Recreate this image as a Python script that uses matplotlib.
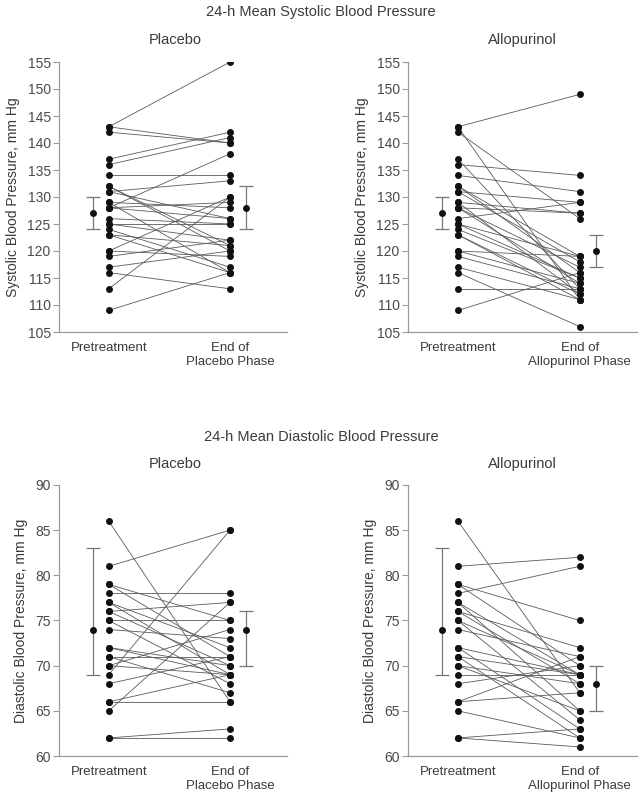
import matplotlib
matplotlib.use("Agg")
import matplotlib.pyplot as plt

plt.rcParams['font.family'] = ['Liberation Sans', 'DejaVu Sans']

# ---------------- data ----------------
sys_pre = [143, 143, 142, 137, 136, 134, 132, 132, 131, 131, 129, 129, 128, 128,
           128, 126, 125, 125, 124, 123, 123, 120, 120, 119, 117, 116, 113, 109]
sys_placebo_post = [155, 140, 140, 142, 141, 134, 121, 120, 133, 126, 116, 128, 138, 129,
                    126, 125, 125, 122, 117, 116, 121, 130, 119, 122, 120, 113, 130, 116]
sys_allo_post = [149, 111, 126, 113, 134, 131, 116, 119, 129, 118, 127, 112, 127, 114,
                 117, 129, 119, 115, 115, 111, 112, 119, 114, 113, 111, 106, 113, 116]

dia_pre = [86, 81, 79, 79, 78, 77, 77, 76, 76, 75, 75, 74, 72, 72, 71, 71, 70, 70,
           69, 68, 66, 66, 65, 62, 62]
dia_placebo_post = [66, 85, 75, 71, 78, 72, 69, 77, 70, 75, 68, 73, 70, 69, 71, 67, 74, 69,
                    85, 71, 69, 66, 77, 63, 62]
dia_allo_post = [67, 82, 75, 70, 81, 69, 65, 72, 68, 69, 64, 71, 69, 63, 69, 62, 68, 65,
                 69, 70, 71, 67, 62, 63, 61]

# summary (mean, lower, upper)
sys_placebo_summary = [(127, 124, 130), (128, 124, 132)]
sys_allo_summary = [(127, 124, 130), (120, 117, 123)]
dia_placebo_summary = [(74, 69, 83), (74, 70, 76)]
dia_allo_summary = [(74, 69, 83), (68, 65, 70)]

sys_ticks = [105, 110, 115, 120, 125, 130, 135, 140, 145, 150, 155]
dia_ticks = [60, 65, 70, 75, 80, 85, 90]

# ---------------- figure ----------------
W, H = 642, 797
fig = plt.figure(figsize=(W / 100, H / 100), dpi=100)

TXT = '#3a3a3a'
SPINE = '#9a9a9a'
LINE = '#5a5a5a'


def px_axes(x0, y_top, x1, y_bot):
    return fig.add_axes([x0 / W, 1 - y_bot / H, (x1 - x0) / W, (y_bot - y_top) / H])


def panel(ax, pre, post, summary, ticks, ylabel, end_label):
    for a, b in zip(pre, post):
        ax.plot([1, 2], [a, b], color=LINE, lw=0.6, zorder=2)
    ax.plot([1] * len(pre), pre, 'o', color='#111111', ms=5, zorder=3, mec='none')
    ax.plot([2] * len(post), post, 'o', color='#111111', ms=5, zorder=3, mec='none')
    for xpos, (m, lo, hi) in zip([0.87, 2.135], summary):
        ax.errorbar([xpos], [m], yerr=[[m - lo], [hi - m]], fmt='o', color='#111111',
                    ecolor='#777777', elinewidth=0.9, capsize=5, capthick=0.9,
                    ms=5, mec='none', zorder=3)
    ax.set_xlim(0.59, 2.47)
    ax.set_ylim(ticks[0], ticks[-1])
    ax.set_yticks(ticks)
    ax.set_xticks([1, 2])
    ax.set_xticklabels(['Pretreatment', end_label], fontsize=9.5, color=TXT)
    ax.tick_params(axis='x', length=0, pad=7)
    ax.tick_params(axis='y', length=4, width=0.8, color=SPINE, labelsize=10,
                   labelcolor='#4a4a4a', pad=2)
    for s in ['top', 'right']:
        ax.spines[s].set_visible(False)
    for s in ['left', 'bottom']:
        ax.spines[s].set_color(SPINE)
        ax.spines[s].set_linewidth(0.9)
    ax.set_ylabel(ylabel, fontsize=10, color=TXT, labelpad=5)
    ax.set_facecolor('none')


ax1 = px_axes(59, 62, 287, 332)
panel(ax1, sys_pre, sys_placebo_post, sys_placebo_summary, sys_ticks,
      'Systolic Blood Pressure, mm Hg', 'End of\nPlacebo Phase')
ax2 = px_axes(408, 62, 637, 332)
panel(ax2, sys_pre, sys_allo_post, sys_allo_summary, sys_ticks,
      'Systolic Blood Pressure, mm Hg', 'End of\nAllopurinol Phase')
ax3 = px_axes(59, 485, 287, 756)
panel(ax3, dia_pre, dia_placebo_post, dia_placebo_summary, dia_ticks,
      'Diastolic Blood Pressure, mm Hg', 'End of\nPlacebo Phase')
ax4 = px_axes(408, 485, 637, 756)
panel(ax4, dia_pre, dia_allo_post, dia_allo_summary, dia_ticks,
      'Diastolic Blood Pressure, mm Hg', 'End of\nAllopurinol Phase')

fig.text(321 / W, 1 - 12 / H, '24-h Mean Systolic Blood Pressure', ha='center', va='center',
         fontsize=10.5, color=TXT)
fig.text(175 / W, 1 - 40 / H, 'Placebo', ha='center', va='center', fontsize=10.5, color=TXT)
fig.text(522 / W, 1 - 40 / H, 'Allopurinol', ha='center', va='center', fontsize=10.5, color=TXT)
fig.text(321 / W, 1 - 437 / H, '24-h Mean Diastolic Blood Pressure', ha='center', va='center',
         fontsize=10.5, color=TXT)
fig.text(175 / W, 1 - 464 / H, 'Placebo', ha='center', va='center', fontsize=10.5, color=TXT)
fig.text(522 / W, 1 - 464 / H, 'Allopurinol', ha='center', va='center', fontsize=10.5, color=TXT)

fig.savefig('out.png', dpi=100, facecolor='white')
